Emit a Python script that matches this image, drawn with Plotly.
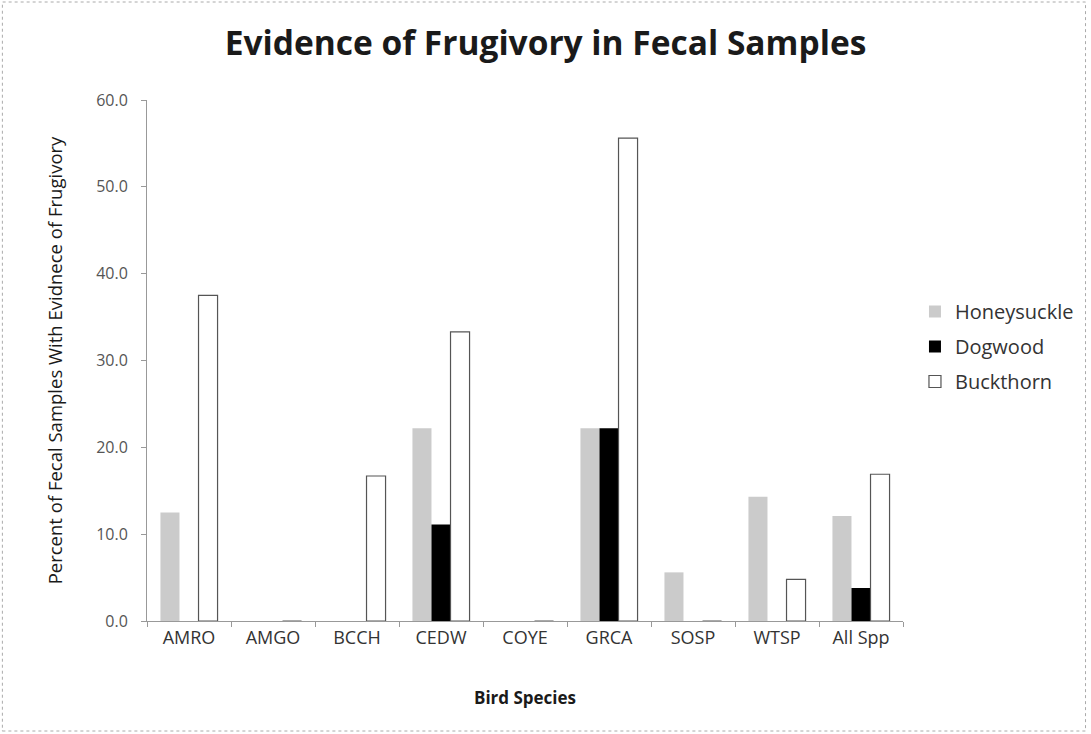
import plotly.graph_objects as go

species = ["AMRO", "AMGO", "BCCH", "CEDW", "COYE", "GRCA", "SOSP", "WTSP", "All Spp"]
honeysuckle = [12.5, 0.0, 0.0, 22.2, 0.0, 22.2, 5.6, 14.3, 12.1]
dogwood = [0.0, 0.0, 0.0, 11.1, 0.0, 22.2, 0.0, 0.0, 3.8]
buckthorn = [37.5, 0.0, 16.7, 33.3, 0.0, 55.6, 0.0, 4.8, 16.9]
y_ticks = [0, 10, 20, 30, 40, 50, 60]

FONT = "Open Sans"

fig = go.Figure()
fig.add_trace(go.Bar(x=species, y=honeysuckle, name="Honeysuckle", legendgroup="a",
                     marker=dict(color="#cbcbcb", line=dict(width=0))))
fig.add_trace(go.Bar(x=species, y=dogwood, name="Dogwood", legendgroup="b",
                     marker=dict(color="#000000", line=dict(width=0))))
fig.add_trace(go.Bar(x=species, y=buckthorn, name="Buckthorn", legendgroup="c",
                     marker=dict(color="#ffffff", line=dict(color="#555555", width=1.2))))

L, R, T, B = 147, 186, 100, 113
W, H = 1091, 734
pw, ph = W - L - R, H - T - B

fig.update_layout(
    width=W, height=H,
    margin=dict(l=L, r=R, t=T, b=B),
    paper_bgcolor="white", plot_bgcolor="white",
    barmode="group", bargap=0.32, bargroupgap=0.0,
    font=dict(family=FONT, color="#333333"),
    title=dict(text="<b>Evidence of Frugivory in Fecal Samples</b>",
               x=0.5, xanchor="center", y=1 - 43 / H, yanchor="middle",
               font=dict(family=FONT, size=33.5, color="#1a1a1a")),
    showlegend=True,
    legend=dict(x=(917 - L) / pw, y=(621 - 292) / ph, xanchor="left", yanchor="top",
                font=dict(family=FONT, size=20, color="#333333"),
                bgcolor="rgba(0,0,0,0)", itemwidth=30, traceorder="grouped",
                tracegroupgap=6),
    xaxis=dict(showline=True, linecolor="#999999", linewidth=1,
               ticks="outside", ticklen=5, tickcolor="#999999", tickson="boundaries",
               tickfont=dict(family=FONT, size=18, color="#333333"),
               title=dict(text="<b>Bird Species</b>", font=dict(family=FONT, size=17, color="#1a1a1a"),
                          standoff=44),
               showgrid=False),
    yaxis=dict(range=[0, 60], tickvals=y_ticks, tickformat=".1f",
               showline=True, linecolor="#999999", linewidth=1,
               ticks="outside", ticklen=5, tickcolor="#999999", ticklabelstandoff=10,
               tickfont=dict(family=FONT, size=16, color="#555555"),
               title=dict(text="Percent of Fecal Samples With Evidnece of Frugivory",
                          font=dict(family=FONT, size=18.5, color="#1a1a1a"), standoff=28),
               showgrid=False, zeroline=False),
)

fig.add_shape(type="rect", xref="paper", yref="paper",
              x0=(2 - L) / pw, x1=(W - 3 - L) / pw,
              y0=(621 - (H - 3)) / ph, y1=(621 - 2) / ph,
              line=dict(color="#aaaaaa", width=1, dash="dot"), fillcolor="rgba(0,0,0,0)",
              layer="below")

fig.write_html("out.html", config={"displayModeBar": False},
               post_script="document.body.style.margin='0';document.body.style.overflow='hidden';")
